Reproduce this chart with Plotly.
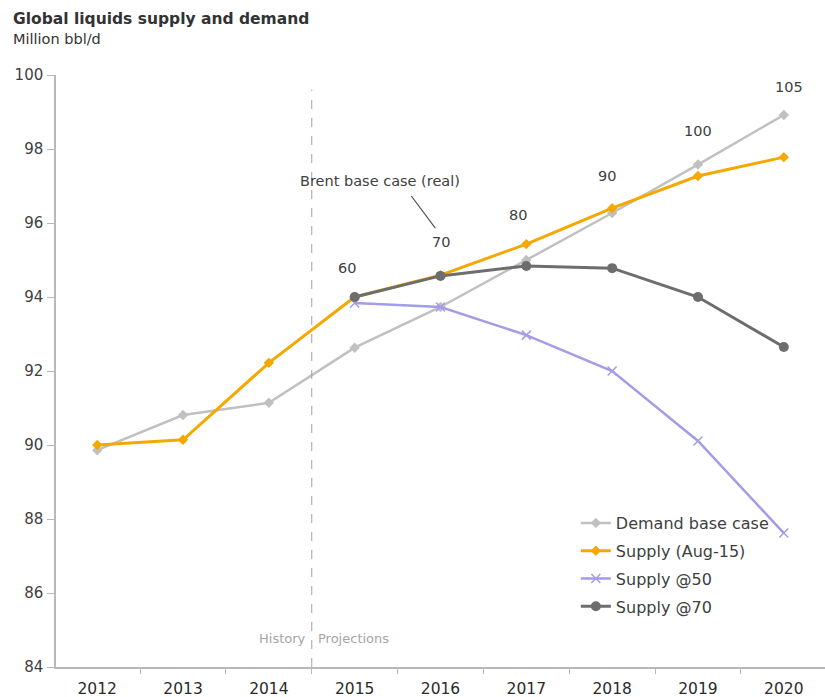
import plotly.graph_objects as go

years = ["2012", "2013", "2014", "2015", "2016", "2017", "2018", "2019", "2020"]
proj_years = ["2015", "2016", "2017", "2018", "2019", "2020"]

demand_base = [89.86, 90.81, 91.14, 92.63, 93.73, 95.00, 96.27, 97.58, 98.92]
supply_aug15 = [90.00, 90.14, 92.22, 94.00, 94.59, 95.43, 96.40, 97.27, 97.78]
supply_50 = [93.84, 93.73, 92.97, 92.00, 90.11, 87.62]
supply_70 = [94.00, 94.57, 94.84, 94.78, 94.00, 92.65]

price_labels = ["60", "70", "80", "90", "100", "105"]

FONT = "DejaVu Sans"
TXT = "#404040"

fig = go.Figure()

fig.add_trace(go.Scatter(
    x=years, y=demand_base, name="Demand base case", mode="lines+markers",
    line=dict(color="#c0c0c0", width=2.5),
    marker=dict(symbol="diamond", size=8, color="#c0c0c0"),
    legendgroup="a"))
fig.add_trace(go.Scatter(
    x=years, y=supply_aug15, name="Supply (Aug-15)", mode="lines+markers",
    line=dict(color="#f5a800", width=3),
    marker=dict(symbol="diamond", size=8, color="#f5a800"),
    legendgroup="b"))
fig.add_trace(go.Scatter(
    x=proj_years, y=supply_50, name="Supply @50", mode="lines+markers",
    line=dict(color="#a49ce6", width=2.5),
    marker=dict(symbol="x-thin", size=9, color="#a49ce6",
                line=dict(color="#a49ce6", width=1.5)),
    legendgroup="c"))
fig.add_trace(go.Scatter(
    x=proj_years, y=supply_70, name="Supply @70", mode="lines+markers",
    line=dict(color="#6d6d6d", width=3),
    marker=dict(symbol="circle", size=10, color="#6d6d6d"),
    legendgroup="d"))

# price labels (Brent base case) above the projection points
label_y = [94.78, 95.49, 96.22, 97.27, 98.49, 99.68]
label_dx = [-8, 0, -8, -5, 0, 5]
for i, (lab, ly, dx) in enumerate(zip(price_labels, label_y, label_dx)):
    fig.add_annotation(x=3 + i, y=ly, text=lab, showarrow=False, xshift=dx,
                       font=dict(family=FONT, size=14.5, color=TXT))

fig.add_annotation(x=3.29, y=97.14, text="Brent base case (real)", showarrow=False,
                   font=dict(family=FONT, size=14.5, color=TXT))
fig.add_shape(type="line", xref="x", yref="y", x0=3.66, y0=96.73, x1=3.94, y1=95.86,
              line=dict(color="#505050", width=1.2))

# History / Projections divider
fig.add_shape(type="line", xref="x", yref="y", x0=2.5, x1=2.5, y0=84, y1=99.6,
              line=dict(color="#a0a0a0", width=1, dash="dash"))
fig.add_annotation(x=2.5, y=84.78, text="History", showarrow=False, xanchor="right",
                   xshift=-4, font=dict(family=FONT, size=13, color="#a6a6a6"))
fig.add_annotation(x=2.5, y=84.78, text="Projections", showarrow=False, xanchor="left",
                   xshift=4, font=dict(family=FONT, size=13, color="#a6a6a6"))

# titles
fig.add_annotation(xref="paper", yref="paper", x=-0.058, y=1.094, xanchor="left",
                   yanchor="middle", showarrow=False,
                   text="<b>Global liquids supply and demand</b>",
                   font=dict(family=FONT, size=15.5, color="#333333"))
fig.add_annotation(xref="paper", yref="paper", x=-0.058, y=1.061, xanchor="left",
                   yanchor="middle", showarrow=False, text="Million bbl/d",
                   font=dict(family=FONT, size=14.5, color="#333333"))

fig.update_layout(
    width=825, height=697,
    margin=dict(l=56, r=0, t=75, b=30),
    paper_bgcolor="white", plot_bgcolor="white",
    font=dict(family=FONT, color=TXT),
    showlegend=True,
    legend=dict(x=0.676, y=0.272, xanchor="left", yanchor="top",
                font=dict(family=FONT, size=16, color=TXT),
                tracegroupgap=4, itemwidth=30, bgcolor="rgba(0,0,0,0)"),
    xaxis=dict(type="category", range=[-0.48, 8.48], showline=True,
               linecolor="#b8b8b8", linewidth=1.5, ticks="outside",
               tickson="boundaries", ticklen=5, tickcolor="#b8b8b8",
               showgrid=False, zeroline=False, ticklabelstandoff=7,
               tickfont=dict(family=FONT, size=15.5, color="#2b2b2b")),
    yaxis=dict(range=[84, 100], dtick=2, showline=True, linecolor="#b8b8b8",
               linewidth=1.5, ticks="outside", ticklen=7, tickcolor="#b8b8b8",
               showgrid=False, zeroline=False, ticklabelstandoff=1,
               tickfont=dict(family=FONT, size=15, color=TXT)),
)

fig.write_html("out.html")
